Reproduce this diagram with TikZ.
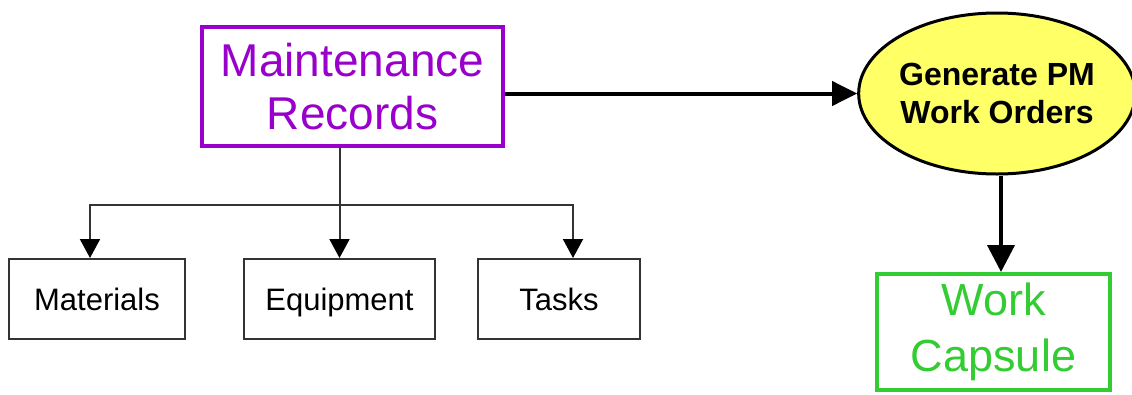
\documentclass[tikz,border=0pt]{standalone}
\usepackage{fontspec}
\setmainfont{Liberation Sans}
\usetikzlibrary{arrows.meta,shapes.geometric}

\definecolor{recpurple}{HTML}{9900CC}
\definecolor{capgreen}{HTML}{33CC33}
\definecolor{genyellow}{HTML}{FFFF66}
\definecolor{linegray}{HTML}{333333}

\tikzset{
    recbox/.style={draw=recpurple, line width=4pt, text=recpurple, inner sep=0pt,
        minimum width=301pt, minimum height=119pt, align=center,
        font=\fontsize{46}{53}\selectfont},
    partbox/.style={draw=linegray, line width=2pt, inner sep=0pt, minimum height=80pt,
        text height=22pt, text depth=0pt, font=\fontsize{31}{36}\selectfont},
    genoval/.style={ellipse, draw=black, line width=3pt, fill=genyellow, inner sep=0pt,
        minimum width=267pt, minimum height=161pt, align=center,
        font=\fontsize{32}{38}\selectfont\bfseries},
    capbox/.style={draw=capgreen, line width=4pt, text=capgreen, inner sep=0pt,
        minimum width=233pt, minimum height=116pt, align=center,
        font=\fontsize{45}{56}\selectfont},
    feed/.style={draw=linegray, line width=2pt, -{Triangle[length=19pt,width=20pt,color=black]}},
    flow/.style={draw=black, line width=4pt, -{Triangle[length=25pt,width=24pt]}}
}

\begin{document}
\begin{tikzpicture}[x=1pt,y=-1pt]
    \useasboundingbox[fill=white] (0,0) rectangle (1132,394);

    % records and what they hold
    \node[recbox] (rec) at (352.5,86.5) {Maintenance\\Records};
    \node[partbox, minimum width=176pt] (mat) at (97,299) {Materials};
    \node[partbox, minimum width=191pt] (eqp) at (339.5,299) {Equipment};
    \node[partbox, minimum width=162pt] (tsk) at (559,299) {Tasks};

    \coordinate (bus) at (339.5,205);
    \draw[draw=linegray, line width=2pt] (rec.south -| eqp.north) -- (bus);
    \draw[feed] (bus) -| ([xshift=-7pt]mat.north);
    \draw[feed] (bus) -- (eqp.north);
    \draw[feed] (bus) -| ([xshift=14pt]tsk.north);

    % work orders
    \node[genoval] (gen) at (997,93.5) {Generate PM\\Work Orders};
    \node[capbox] (cap) at (993.5,332) {Work\\Capsule};

    \draw[flow] (gen.west -| rec.east) -- (gen.west);
    \draw[flow, -{Triangle[length=27pt,width=27pt]}] ([xshift=4pt]gen.south) -- ([xshift=4pt]gen.south |- cap.north);
\end{tikzpicture}
\end{document}
